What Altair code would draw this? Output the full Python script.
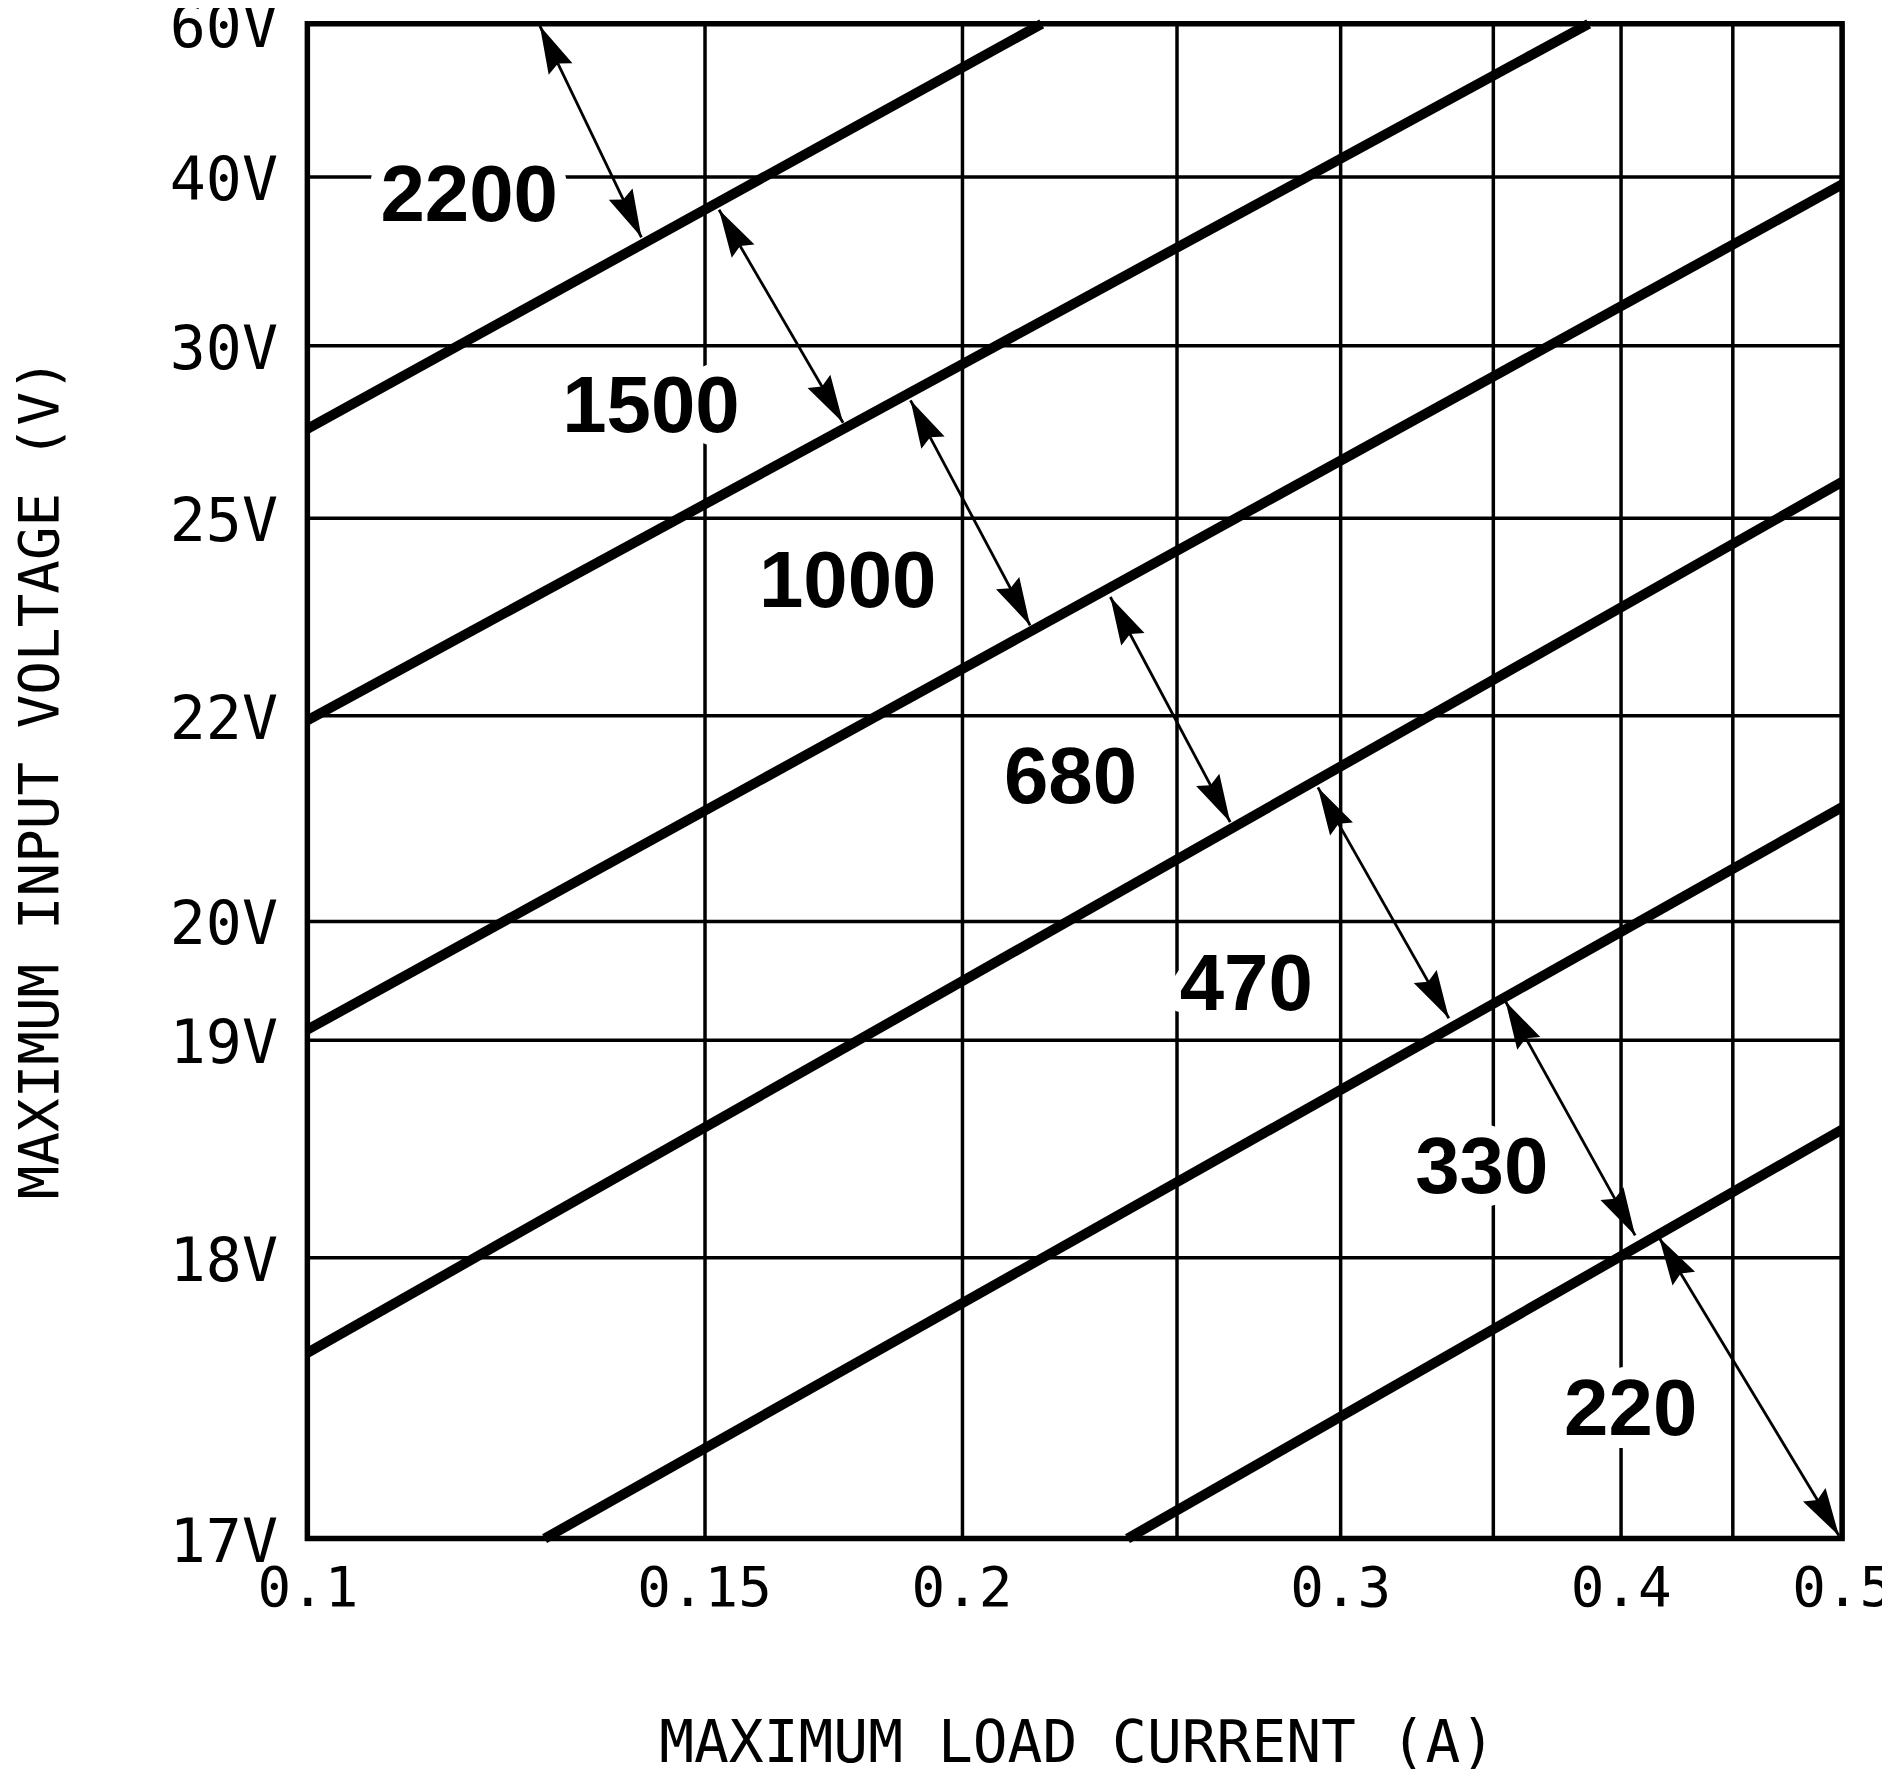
import math
import numpy as np
import pandas as pd
import altair as alt

# ---------------- plot size ----------------
W, H = 1538, 1518

# ---------------- axes (nomograph scales) ----------------
X_TICKS = [0.1, 0.15, 0.2, 0.25, 0.3, 0.35, 0.4, 0.45, 0.5]
X_UNLABELLED = [0.25, 0.35, 0.45]
Y_TICKS = [17, 18, 19, 20, 22, 25, 30, 40, 60]
# relative placement of each printed gridline along its axis (0 = left / bottom)
X_FRAC = [0.0, 0.2585, 0.4262, 0.5660, 0.6730, 0.7724, 0.8557, 0.9285, 1.0]
Y_FRAC = [0.0, 0.1858, 0.3294, 0.4081, 0.5432, 0.6739, 0.7876, 0.8989, 1.0]

X_TITLE = "MAXIMUM LOAD CURRENT (A)"
Y_TITLE = "MAXIMUM INPUT VOLTAGE (V)"

# ---------------- boundary lines between capacitor regions ----------------
CURVE_X1 = [0.1, 0.1, 0.1, 0.1, 0.1299, 0.2387]
CURVE_Y1 = [27.58, 21.956, 19.084, 17.66, 17.0, 17.0]
CURVE_X2 = [0.2187, 0.3875, 0.5, 0.5, 0.5, 0.5]
CURVE_Y2 = [60.0, 60.0, 39.556, 26.043, 21.107, 18.587]

# ---------------- double-headed arrows ----------------
ARROW_X1 = [0.1293, 0.1529, 0.1901, 0.2347, 0.2932, 0.3550, 0.4172]
ARROW_Y1 = [59.74, 38.06, 28.41, 23.80, 21.30, 19.32, 18.09]
ARROW_X2 = [0.1421, 0.1770, 0.2160, 0.2665, 0.3356, 0.4065, 0.4986]
ARROW_Y2 = [36.42, 27.76, 23.37, 20.96, 19.18, 18.10, 17.01]

# ---------------- region labels (capacitance) ----------------
LABEL_TEXT = ["2200", "1500", "1000", "680", "470", "330", "220"]
LABEL_X = [0.1204, 0.1433, 0.1779, 0.2254, 0.2714, 0.3464, 0.4045]
LABEL_Y = [39.08, 28.32, 24.09, 21.43, 19.49, 18.43, 17.47]

# ---------------- scales ----------------
X_RANGE = [round(f * W, 2) for f in X_FRAC]
Y_RANGE = [round((1 - f) * H, 2) for f in Y_FRAC]

x_scale = alt.Scale(domain=X_TICKS, range=X_RANGE, nice=False, zero=False)
y_scale = alt.Scale(domain=Y_TICKS, range=Y_RANGE, nice=False, zero=False)

AX_FONT = "DejaVu Sans Mono"
LBL_FONT = "Liberation Sans"

unl = ",".join(str(v) for v in X_UNLABELLED)
x_axis = alt.Axis(
    values=X_TICKS, grid=True, ticks=False, tickSize=0, domain=False,
    labelExpr=f"indexof([{unl}], datum.value) >= 0 ? '' : toString(datum.value)",
    labelFont=AX_FONT, labelFontSize=56, labelPadding=23, labelFlush=False,
    labelOverlap=False, labelColor="black",
    titleFont=AX_FONT, titleFontSize=58, titleFontWeight="normal", titleColor="black",
    titleX=771, titleY=223, titleBaseline="alphabetic", titleAlign="center",
    gridColor="black", gridWidth=3.5, gridOpacity=1,
)
y_axis = alt.Axis(
    values=Y_TICKS, grid=True, ticks=False, tickSize=0, domain=False,
    labelExpr="datum.value + 'V'",
    labelFont=AX_FONT, labelFontSize=60, labelPadding=30, labelOffset=5,
    labelBaseline="middle", labelFlush=False, labelOverlap=False, labelColor="black",
    titleFont=AX_FONT, titleFontSize=56, titleFontWeight="normal", titleColor="black",
    titleX=-250, titleY=756, titleAngle=270, titleBaseline="alphabetic", titleAlign="center",
    gridColor="black", gridWidth=3.5, gridOpacity=1,
)


def ex():
    return alt.X("x:Q", scale=x_scale, axis=x_axis, title=X_TITLE)


def ey():
    return alt.Y("y:Q", scale=y_scale, axis=y_axis, title=Y_TITLE)


# ---------------- data frames ----------------
curves_df = pd.DataFrame({"x": CURVE_X1, "y": CURVE_Y1, "x2": CURVE_X2, "y2": CURVE_Y2})
arrows_df = pd.DataFrame({"x": ARROW_X1, "y": ARROW_Y1, "x2": ARROW_X2, "y2": ARROW_Y2})
labels_df = pd.DataFrame({"x": LABEL_X, "y": LABEL_Y, "t": LABEL_TEXT})


def to_px(xv, yv):
    return float(np.interp(xv, X_TICKS, X_RANGE)), float(np.interp(yv, Y_TICKS, Y_RANGE))


head_rows = []
for x1, y1, x2, y2 in zip(ARROW_X1, ARROW_Y1, ARROW_X2, ARROW_Y2):
    p1 = to_px(x1, y1)
    p2 = to_px(x2, y2)
    dx, dy = p1[0] - p2[0], p1[1] - p2[1]
    a_top = math.degrees(math.atan2(dx, -dy)) % 360
    a_bot = (a_top + 180) % 360
    head_rows.append({"x": x1, "y": y1, "ang": a_top})
    head_rows.append({"x": x2, "y": y2, "ang": a_bot})
heads_df = pd.DataFrame(head_rows)

HEAD_PATH = "M0,0L0.55,2L0,1.75L-0.55,2Z"

curves = alt.Chart(curves_df).mark_rule(color="black", strokeWidth=10, strokeCap="butt").encode(
    x=ex(), y=ey(), x2="x2:Q", y2="y2:Q"
)
shafts = alt.Chart(arrows_df).mark_rule(color="black", strokeWidth=2.8).encode(
    x=ex(), y=ey(), x2="x2:Q", y2="y2:Q"
)
heads = alt.Chart(heads_df).mark_point(
    shape=HEAD_PATH, filled=True, color="black", size=2304, opacity=1, strokeWidth=0
).encode(x=ex(), y=ey(), angle=alt.Angle("ang:Q", scale=None))

halo = alt.Chart(labels_df).mark_text(
    font=LBL_FONT, fontWeight="bold", fontSize=80, align="center", baseline="middle", dy=5,
    fill="white", stroke="white", strokeWidth=26, strokeJoin="round",
).encode(x=ex(), y=ey(), text="t:N")
labels = alt.Chart(labels_df).mark_text(
    font=LBL_FONT, fontWeight="bold", fontSize=80, align="center", baseline="middle", dy=5,
    color="black",
).encode(x=ex(), y=ey(), text="t:N")

chart = (
    alt.layer(curves, shafts, heads, halo, labels)
    .properties(
        width=W, height=H,
        autosize=alt.AutoSizeParams(type="none"),
        padding={"left": 300, "top": 14, "right": 40, "bottom": 229},
        background="white",
    )
    .configure_view(stroke="black", strokeWidth=5.5)
)

chart.save("out.html", embed_options={"renderer": "svg", "actions": False})
